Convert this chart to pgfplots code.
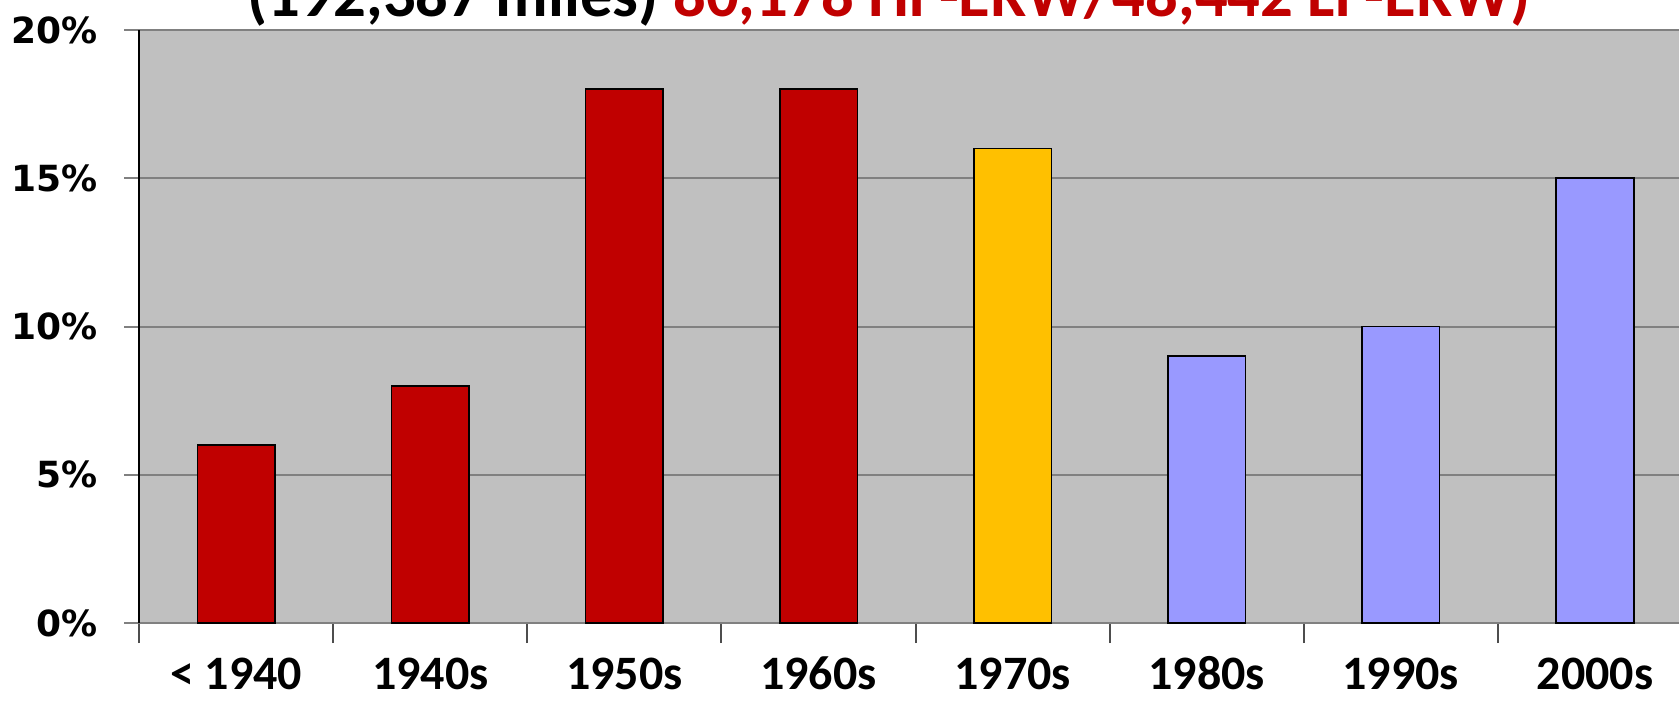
\documentclass[border=0pt]{standalone}
\usepackage{fontspec}
\setmainfont{Carlito}
\newfontfamily\dvs{DejaVu Sans}
\usepackage{pgfplots}
\pgfplotsset{compat=1.18}
\definecolor{bgg}{HTML}{C0C0C0}
\definecolor{darkred}{HTML}{C00000}
\definecolor{gold}{HTML}{FFC000}
\definecolor{lav}{HTML}{9999FF}
\definecolor{gridc}{HTML}{808080}
\begin{document}
\begin{tikzpicture}
\useasboundingbox (0,0) rectangle (503.7pt,210.6pt);
\clip (0,0) rectangle (503.7pt,210.6pt);
\begin{axis}[
  at={(41.76pt,23.64pt)}, anchor=south west,
  scale only axis, width=465.84pt, height=177.96pt,
  xmin=-0.5, xmax=7.5, ymin=0, ymax=20,
  axis background/.style={fill=bgg},
  axis x line*=bottom, axis y line*=left,
  x axis line style={draw=gridc, line width=0.6pt},
  y axis line style={draw=black, line width=0.6pt},
  ymajorgrids, major grid style={draw=gridc, line width=0.6pt},
  ytick={0,5,10,15,20}, yticklabels={0\%,5\%,10\%,15\%,20\%},
  yticklabel style={font=\dvs\bfseries\fontsize{10.8}{12}\selectfont, xshift=-4.5pt},
  xtick={0,...,7},
  xticklabels={< 1940,1940s,1950s,1960s,1970s,1980s,1990s,2000s},
  xticklabel style={font=\bfseries\fontsize{14.4}{16}\selectfont, anchor=base, inner sep=0pt, yshift=-15.4pt},
  major x tick style={draw=none},
  minor xtick={-0.5,0.5,...,7.5},
  minor x tick style={draw=gridc!60!black, line width=0.6pt},
  y tick style={draw=gridc, line width=0.6pt},
  tick align=outside,
  major tick length=4.5pt, minor tick length=6pt,
]
\addplot[ybar, bar width=0.4, fill=darkred, draw=black, line width=0.5pt]
  coordinates {(0,6) (1,8) (2,18) (3,18)};
\addplot[ybar, bar width=0.4, fill=gold, draw=black, line width=0.5pt]
  coordinates {(4,16)};
\addplot[ybar, bar width=0.4, fill=lav, draw=black, line width=0.5pt]
  coordinates {(5,9) (6,10) (7,15)};
\end{axis}
\node[anchor=base, font=\bfseries\fontsize{19.4}{22}\selectfont] at (266.8pt,205.5pt)
  {(192,387 miles) \textcolor{darkred}{80,178 HF-ERW/48,442 LF-ERW)}};
\end{tikzpicture}
\end{document}
